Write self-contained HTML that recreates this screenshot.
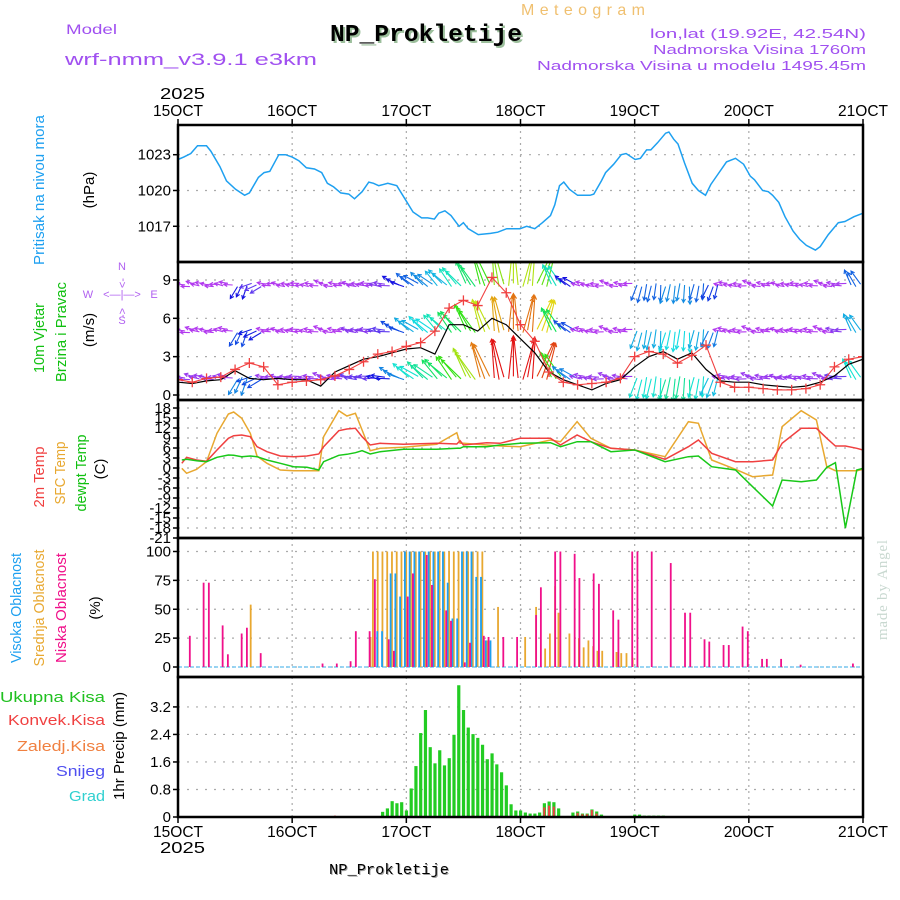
<!DOCTYPE html>
<html><head><meta charset="utf-8"><style>
html,body{margin:0;padding:0;background:#fff;}
svg{display:block;font-family:"Liberation Sans",sans-serif;}
</style></head><body>
<svg id="c" width="900" height="900" viewBox="0 0 900 900" xmlns="http://www.w3.org/2000/svg">
<defs>
<clipPath id="clipWind"><rect x="178" y="262" width="685" height="138"/></clipPath>
<clipPath id="clipP"><rect x="178" y="125" width="685" height="137"/></clipPath>
<clipPath id="clipT"><rect x="178" y="400" width="685" height="138"/></clipPath>
</defs>
<text x="583" y="15" fill="#f0c070" font-size="16" text-anchor="middle" textLength="124" lengthAdjust="spacing">Meteogram</text>
<text x="428" y="43" fill="#9cbf9c" font-family="Liberation Mono,monospace" font-weight="bold" font-size="24" text-anchor="middle" textLength="192" lengthAdjust="spacingAndGlyphs">NP_Prokletije</text>
<text x="426" y="41" fill="#000" font-family="Liberation Mono,monospace" font-weight="bold" font-size="24" text-anchor="middle" textLength="192" lengthAdjust="spacingAndGlyphs">NP_Prokletije</text>
<text x="66" y="34" fill="#a050f0" font-size="14" textLength="51" lengthAdjust="spacingAndGlyphs">Model</text>
<text x="65" y="65" fill="#a050f0" font-size="17" textLength="252" lengthAdjust="spacingAndGlyphs">wrf-nmm_v3.9.1  e3km</text>
<text x="866" y="38" fill="#a050f0" font-size="13" text-anchor="end" textLength="216" lengthAdjust="spacingAndGlyphs">lon,lat (19.92E, 42.54N)</text>
<text x="866" y="54" fill="#a050f0" font-size="13" text-anchor="end" textLength="213" lengthAdjust="spacingAndGlyphs">Nadmorska Visina 1760m</text>
<text x="866" y="70" fill="#a050f0" font-size="13" text-anchor="end" textLength="329" lengthAdjust="spacingAndGlyphs">Nadmorska Visina u modelu 1495.45m</text>

<g font-size="15">
<text transform="translate(44,190) rotate(-90)" fill="#1ea0f0" text-anchor="middle" textLength="150" lengthAdjust="spacingAndGlyphs">Pritisak na nivou mora</text>
<text transform="translate(94,190) rotate(-90)" fill="#000" text-anchor="middle">(hPa)</text>
<text transform="translate(44,338) rotate(-90)" fill="#10c010" text-anchor="middle" textLength="70" lengthAdjust="spacingAndGlyphs">10m Vjetar</text>
<text transform="translate(66,332) rotate(-90)" fill="#10c010" text-anchor="middle" textLength="100" lengthAdjust="spacingAndGlyphs">Brzina i Pravac</text>
<text transform="translate(94,330) rotate(-90)" fill="#000" text-anchor="middle">(m/s)</text>
<text transform="translate(44,477) rotate(-90)" fill="#f04040" text-anchor="middle" textLength="61" lengthAdjust="spacingAndGlyphs">2m Temp</text>
<text transform="translate(65,473) rotate(-90)" fill="#e8a830" text-anchor="middle" textLength="63" lengthAdjust="spacingAndGlyphs">SFC Temp</text>
<text transform="translate(86,473) rotate(-90)" fill="#10c010" text-anchor="middle" textLength="77" lengthAdjust="spacingAndGlyphs">dewpt Temp</text>
<text transform="translate(105,469) rotate(-90)" fill="#000" text-anchor="middle">(C)</text>
<text transform="translate(21,608) rotate(-90)" fill="#1ea0f0" text-anchor="middle" textLength="110" lengthAdjust="spacingAndGlyphs">Visoka Oblacnost</text>
<text transform="translate(44,608) rotate(-90)" fill="#e8a830" text-anchor="middle" textLength="117" lengthAdjust="spacingAndGlyphs">Srednja Oblacnost</text>
<text transform="translate(66,608) rotate(-90)" fill="#f0108a" text-anchor="middle" textLength="110" lengthAdjust="spacingAndGlyphs">Niska Oblacnost</text>
<text transform="translate(100,608) rotate(-90)" fill="#000" text-anchor="middle">(%)</text>
<text transform="translate(124,746) rotate(-90)" fill="#000" text-anchor="middle" textLength="108" lengthAdjust="spacingAndGlyphs">1hr Precip (mm)</text>
<text x="105" y="702" fill="#20c020" text-anchor="end" textLength="105" lengthAdjust="spacingAndGlyphs">Ukupna  Kisa</text>
<text x="105" y="725" fill="#f04040" text-anchor="end" textLength="97" lengthAdjust="spacingAndGlyphs">Konvek.Kisa</text>
<text x="105" y="751" fill="#f08040" text-anchor="end" textLength="88" lengthAdjust="spacingAndGlyphs">Zaledj.Kisa</text>
<text x="105" y="776" fill="#5050f0" text-anchor="end" textLength="49" lengthAdjust="spacingAndGlyphs">Snijeg</text>
<text x="105" y="801" fill="#30d0d0" text-anchor="end" textLength="36" lengthAdjust="spacingAndGlyphs">Grad</text>
</g>
<g fill="#b060f0" font-size="11" text-anchor="middle">
<text x="122" y="270">N</text><text x="122" y="324">S</text><text x="88" y="298">W</text><text x="154" y="298">E</text>
<text x="122" y="298">&lt;—|—&gt;</text>
<text transform="translate(126,283) rotate(-90)">&lt;-</text>
<text transform="translate(126,313) rotate(-90)">-&gt;</text>
</g>
<text transform="translate(887,590) rotate(-90)" fill="#c8d8d0" font-family="Liberation Serif,serif" font-size="15" text-anchor="middle" textLength="100" lengthAdjust="spacing">made by Angel</text>
<text x="390" y="875" fill="#a0a0a0" font-family="Liberation Mono,monospace" font-size="15" text-anchor="middle" textLength="120" lengthAdjust="spacingAndGlyphs">NP_Prokletije</text>
<text x="389" y="874" fill="#000" font-family="Liberation Mono,monospace" font-size="15" text-anchor="middle" textLength="120" lengthAdjust="spacingAndGlyphs">NP_Prokletije</text>
<g id="g"></g>
</svg>
<script>
const dayLabels = ["15OCT","16OCT","17OCT","18OCT","19OCT","20OCT","21OCT"];
const pHours = [0,1.2,2.7,4.1,6,6.9,8.8,10.2,12.1,14,15,16.9,18.1,19.3,21.2,22.6,24,25.4,27,28.7,30.2,31.4,32.7,34.2,35.9,37.1,38.7,40.1,41.1,42.2,44.1,46,47.7,49.4,51.2,52.5,53.9,54.8,56.1,57.4,59.1,60,61,63.1,65.7,67.2,69.1,70.5,71.9,73.3,75,76.6,78.3,79.2,80.2,81.1,82.3,84,86.6,87.4,89,89.9,91.6,93.2,94.2,96.1,97.2,98.5,99.4,100.8,102.5,103.2,104.2,105.1,106.5,108.1,109.4,110.9,112,113.4,115.3,117.2,118.9,120.3,121.2,122.9,124.1,125,126.3,127.6,129.3,130.7,132.1,134,135,136.7,138.8,140.2,142.1,144];
const pressure = [1022.6,1022.8,1023.1,1023.75,1023.75,1023.3,1022,1020.8,1020.1,1019.6,1019.8,1021.1,1021.5,1021.6,1023,1023,1022.8,1022.5,1021.9,1021.8,1021.5,1020.6,1020.3,1019.8,1019.7,1019.3,1019.9,1020.7,1020.6,1020.4,1020.6,1020.4,1019.3,1018.2,1017.7,1017.7,1017.6,1018.1,1018.3,1017.9,1017,1017.3,1016.8,1016.3,1016.4,1016.5,1016.8,1016.8,1016.8,1017,1016.8,1017.3,1017.9,1018.8,1020.4,1020.7,1020.1,1019.6,1019.6,1019.7,1020.8,1021.5,1022.2,1023,1023.1,1022.6,1022.7,1023.4,1023.4,1024,1024.8,1024.9,1024.3,1023.9,1022.3,1020.6,1020,1019.6,1020.5,1021.3,1022.4,1022.7,1022.2,1021.2,1020.9,1020,1019.9,1019.6,1019,1017.8,1016.6,1015.9,1015.4,1015,1015.3,1016.3,1017.3,1017.4,1017.8,1018.1];
const pTicks = [1017,1020,1023];

const windHours = [0,3,6,9,12,15,18,21,24,27,30,33,36,39,42,45,48,51,54,57,60,63,66,69,72,75,78,81,84,87,90,93,96,99,102,105,108,111,114,117,120,123,126,129,132,135,138,141,144];
const windSpeed = [1.0,0.9,1.1,1.2,1.9,1.3,1.2,1.3,1.2,1.2,0.7,1.8,2.3,2.8,3.0,3.3,3.6,3.7,3.2,5.5,5.5,5.0,6.0,5.5,4.4,3.3,1.8,1.2,0.8,0.4,0.9,1.2,2.2,3.0,3.4,2.8,3.3,2.0,1.1,1.0,1.0,0.8,0.7,0.6,0.7,1.0,1.5,2.4,2.8];
const windGust = [1.2,1.0,1.3,1.4,2.0,2.5,2.2,0.8,1.0,1.1,1.2,1.5,2.0,2.6,3.2,3.4,3.8,4.1,5.0,6.8,7.4,7.0,9.2,8.0,5.5,4.2,1.8,1.0,0.8,0.9,1.0,1.3,3.0,3.4,3.2,2.5,3.1,3.9,1.0,0.6,0.6,0.5,0.4,0.4,0.5,0.8,2.2,2.8,3.0];
const arrowDir = [172,168,175,170,245,205,176,170,178,172,168,176,170,178,172,155,145,140,135,130,120,110,100,90,80,70,120,145,170,176,168,175,255,262,258,266,260,250,172,176,168,175,170,178,172,168,176,120,115];
const arrowSpd = [2,2,2,2,4,3.5,2,2,2,2,2,2,2.5,2.5,3,4,5,5.5,6,7,8,9.5,10.5,11,11,10,7,4,2,2,2,2,5,5,5.5,5.5,5,4.5,2,2,2,2,2,2,2,2,2.5,5,5];
const windTicks = [0,3,6,9];

const tHours = [0.8,1.8,3.9,6,8.2,10.6,11.7,13.4,15.2,16.6,18.7,21.5,24.3,27.1,29.6,30.6,33.8,35.5,37.3,38.7,40.4,42.5,47.4,54.4,58.6,59.3,60,64.9,67.7,71.9,78.3,80.4,83.9,86.8,91,96,102.4,107.3,109.4,112.2,117.2,120.8,125,127,131,134.2,136.4,138.2,140.3,142.7,144];
const temp2m = [1.4,3.2,2.4,2.0,5.4,8.9,9.7,9.9,9.4,6.4,4.9,3.6,3.4,3.6,4.2,6.4,11.2,11.7,11.9,9.4,6.9,7.4,7.1,7.4,7.2,8.2,6.9,7.6,7.4,8.9,8.9,6.9,9.9,7.9,5.9,5.4,2.6,6.4,8.4,4.4,1.9,1.9,2.4,7.4,11.9,11.9,8.9,6.6,6.6,5.9,5.4];
const tempSfc = [-0.1,-1.6,-0.4,1.9,10.4,16.2,16.8,14.9,10.4,3.6,1.4,-0.6,-0.8,-0.8,-0.8,9.4,17.2,15.6,16.4,11.4,5.2,5.9,6.2,7.1,10.6,7.4,7.4,6.9,6.6,6.4,8.4,7.9,13.9,8.9,5.9,5.4,3.4,13.9,13.4,2.4,-0.4,-2.6,-2.1,12.4,17.2,14.4,0.4,-0.8,-0.8,-0.8,-0.4];
const tempDew = [2.4,2.6,2.2,1.9,3.2,3.9,3.8,3.4,3.6,3.4,2.4,1.4,0.4,0.2,-0.6,1.9,3.8,4.1,4.6,5.2,4.2,4.9,5.6,5.6,5.9,5.9,6.4,6.4,6.9,7.4,7.6,6.4,7.9,7.9,4.9,5.4,1.9,3.4,3.6,0.4,-0.6,-5.6,-11.4,-3.6,-4.1,-3.6,0.2,1.6,-18,-0.6,-0.1];
const tTicks = [-21,-18,-15,-12,-9,-6,-3,0,3,6,9,12,15,18];

const lowHours = [2.4,5.3,6.4,9.3,10.4,13.3,14.4,17.3,30.3,33.3,36.2,37.3,40.2,41.3,44.2,45.3,48.2,49.3,52.2,53.3,56.3,57.3,60.2,61.3,64.2,65.2,68.3,71.2,75.2,76.2,79.2,80.3,83.3,84.3,87.3,88.4,91.4,92.5,95.4,96.5,99.5,103.5,106.5,107.6,110.6,111.6,114.6,115.7,118.6,119.7,122.7,123.7,126.7,130.8,141.8];
const lowCloud = [27,73,73,36,11,29,34,12,3,3,5,31,31,76,24,14,61,81,97,71,49,40,4,21,27,26,26,26,45,69,100,100,98,77,81,72,49,41,100,100,100,90,47,47,24,22,19,19,35,31,7,7,7,2,3];
const midHours = [15.3,40.5,41,42,43,44,45,46,47,48,49,50,51,52,53,54,55,56,57,58,59,60,61,62,63,64,65,67.3,73,75.3,77.2,78.2,79.3,80,82.3,84.3,85.3,86.3,87.3,88.2,89.2,92.2,93.2,94.3,95.6];
const midCloud = [54,26,100,100,100,100,100,100,100,100,100,100,100,100,100,100,100,100,100,100,100,100,100,100,100,100,23,52,26,52,16,29,70,47,29,25,17,23,18,14,14,13,12,12,8];
const highHours = [41.6,42.6,44.4,45.4,46.4,47.4,48.4,49.4,50.4,51.4,52.4,53.4,54.4,55.4,56.4,57.4,58.4,59.4,60.4,61.4,62.4,63.4,64.4,65.4];
const highCloud = [31,31,81,81,61,100,100,100,100,100,100,100,100,100,73,42,42,100,100,100,78,78,23,23];
const cloudTicks = [0,25,50,75,100];

const precipStart = 43;
const precipTotal = [0.15,0.25,0.46,0.4,0.43,0.19,0.83,1.48,2.44,3.11,2.03,1.56,1.94,1.5,1.71,2.39,3.83,3.11,2.6,2.41,2.3,2.1,1.68,1.85,1.53,1.3,0.92,0.37,0.19,0.19,0.13,0.1,0.1,0.13,0.4,0.45,0.43,0.25,0,0.03,0.13,0.16,0.1,0.1,0.22,0.16,0.07,0.02,0,0,0,0,0.03,0.07,0.07,0.04,0.04,0.04,0.04,0.04];
const convHours = [33,62,77,78,79,84,85,86,87,88];
const precipConv = [0.04,0.04,0.28,0.33,0.3,0.12,0.08,0.08,0.2,0.1];
const precipTicks = [0,0.8,1.6,2.4,3.2];

const X0=178, X1=863;
const xs = h => X0 + h*(X1-X0)/144;
const yP = p => 154.7 - (p-1023)*11.93;
const yW = v => 395 - v*12.78;
const yT = t => 468 - t*3.333;
const yC = v => 667 - v*1.155;
const yR = v => 817 - v*34.4;
const panels = [[125,262],[262,400],[400,538],[538,677],[677,817]];

const NS="http://www.w3.org/2000/svg";
const g=document.getElementById('g');
function mk(tag, attrs, parent){const e=document.createElementNS(NS,tag);for(const k in attrs)e.setAttribute(k,attrs[k]);(parent||g).appendChild(e);return e;}

panels.forEach((pn,i)=>{
  for(let d=1;d<6;d++){
    const l=mk('line',{x1:xs(d*24),x2:xs(d*24),y1:pn[0],y2:pn[1],stroke:'#aaa','stroke-width':1.2,'stroke-dasharray':'2 4'});
    
    
  }
});
function hgrid(vals, yf, name){
  vals.forEach(v=>{
    const l=mk('line',{x1:X0,x2:X1,y1:yf(v),y2:yf(v),stroke:'#aaa','stroke-width':1.2,'stroke-dasharray':'2 7'});
    
    
    mk('line',{x1:X0-5,x2:X0,y1:yf(v),y2:yf(v),stroke:'#000','stroke-width':1.5});
  });
}
function ylabels(vals, yf, fmt, name){
  vals.forEach(v=>{
    const t=mk('text',{x:171,y:yf(v)+5,'text-anchor':'end','font-size':15,fill:'#000'});
    t.textContent=fmt(v);
    
    
  });
}
hgrid(pTicks,yP,'pressure-gridline'); ylabels(pTicks,yP,v=>String(v),'pressure-tick-label');
hgrid(windTicks,yW,'wind-gridline'); ylabels(windTicks,yW,v=>String(v),'wind-tick-label');
hgrid(tTicks,yT,'temp-gridline'); ylabels(tTicks,yT,v=>String(v),'temp-tick-label');
hgrid(cloudTicks,yC,'cloud-gridline'); ylabels(cloudTicks,yC,v=>String(v),'cloud-tick-label');
hgrid(precipTicks,yR,'precip-gridline'); ylabels(precipTicks,yR,v=>v===0?'0':v.toFixed(1),'precip-tick-label');

{
  const d=pHours.map((h,i)=>(i?'L':'M')+xs(h).toFixed(1)+','+yP(pressure[i]).toFixed(1)).join('');
  const p=mk('path',{d:d,fill:'none',stroke:'#1ea0f0','stroke-width':1.5,'clip-path':'url(#clipP)'});
  
  
}

const wg=mk('g',{'clip-path':'url(#clipWind)'});
const rowY=[285,331,378], rowMult=[0.85,1,1.15];
for(let r=0;r<3;r++){
  for(let h=0;h<144;h++){
    const i=Math.floor(h/3);
    const s=arrowSpd[i]*rowMult[r];
    const L=2.9*s+4;
    const a=(arrowDir[i]+(h%3-1)*6)*Math.PI/180;
    const x1=xs(h+0.5), y1=rowY[r]+((h*7)%5-2)*0.8;
    const x2=x1+L*Math.cos(a), y2=y1-L*Math.sin(a);
    const hue=Math.max(0,Math.min(280,280-(s-2)*28));
    const col='hsl('+hue+',85%,'+(hue>250?58:48)+'%)';
    const ar=mk('path',{d:'M'+x1.toFixed(1)+','+y1.toFixed(1)+'L'+x2.toFixed(1)+','+y2.toFixed(1)+
      'M'+(x2-4*Math.cos(a-0.5)).toFixed(1)+','+(y2+4*Math.sin(a-0.5)).toFixed(1)+'L'+x2.toFixed(1)+','+y2.toFixed(1)+
      'L'+(x2-4*Math.cos(a+0.5)).toFixed(1)+','+(y2+4*Math.sin(a+0.5)).toFixed(1),
      fill:'none',stroke:col,'stroke-width':1.1},wg);
    
    
  }
}
{
  const d=windHours.map((h,i)=>(i?'L':'M')+xs(h).toFixed(1)+','+yW(windSpeed[i]).toFixed(1)).join('');
  const p=mk('path',{d:d,fill:'none',stroke:'#000','stroke-width':1.2},wg);
  
  
  const d2=windHours.map((h,i)=>(i?'L':'M')+xs(h).toFixed(1)+','+yW(windGust[i]).toFixed(1)).join('');
  const p2=mk('path',{d:d2,fill:'none',stroke:'#f04040','stroke-width':1.1},wg);
  
  
  windHours.forEach((h,i)=>{
    const x=xs(h), y=yW(windGust[i]);
    const m=mk('path',{d:'M'+(x-5)+','+y+'h10M'+x+','+(y-5)+'v10',stroke:'#f04040','stroke-width':1.3},wg);
    
    
  });
}

const tg=mk('g',{'clip-path':'url(#clipT)'});
[[tempSfc,'#e8a830','temp-sfc-line'],[temp2m,'#f04040','temp-2m-line'],[tempDew,'#18c818','temp-dewpt-line']].forEach(s=>{
  const d=tHours.map((h,i)=>(i?'L':'M')+xs(h).toFixed(1)+','+yT(s[0][i]).toFixed(1)).join('');
  const p=mk('path',{d:d,fill:'none',stroke:s[1],'stroke-width':1.5},tg);
  
  
});

function cbars(hours, vals, col, off, name){
  hours.forEach((h,i)=>{
    const b=mk('rect',{x:xs(h)+off,y:yC(vals[i]),width:1.8,height:Math.max(0,667-yC(vals[i])),fill:col});
    
    
  });
}
mk('line',{x1:X0,x2:X1,y1:667,y2:667,stroke:'#7ac8f0','stroke-width':1.5,'stroke-dasharray':'4 2'});
cbars(midHours,midCloud,'#e8a830',-1,'mid-cloud-bar');
cbars(highHours,highCloud,'#1ea0f0',0.5,'high-cloud-bar');
cbars(lowHours,lowCloud,'#f0108a',-0.5,'low-cloud-bar');

precipTotal.forEach((v,i)=>{
  const h=precipStart+i;
  const b=mk('rect',{x:xs(h)-1.5,y:yR(v),width:3.2,height:817-yR(v),fill:'#22cc22'});
  
  
});
convHours.forEach((h,i)=>{
  const b=mk('rect',{x:xs(h)-1,y:yR(precipConv[i]),width:2,height:817-yR(precipConv[i]),fill:'#f04040'});
  
  
});

panels.forEach((pn,i)=>{
  const r=mk('rect',{x:X0,y:pn[0],width:X1-X0,height:pn[1]-pn[0],fill:'none',stroke:'#000','stroke-width':2.5});
  
  
});
dayLabels.forEach((lab,d)=>{
  const x=xs(d*24);
  mk('line',{x1:x,x2:x,y1:119,y2:125,stroke:'#000','stroke-width':1.5});
  mk('line',{x1:x,x2:x,y1:817,y2:823,stroke:'#000','stroke-width':1.5});
  const t=mk('text',{x:x,y:116,'text-anchor':'middle','font-size':16,textLength:50,lengthAdjust:'spacingAndGlyphs'});
  t.textContent=lab;
  
  
  const b=mk('text',{x:x,y:837,'text-anchor':'middle','font-size':16,textLength:50,lengthAdjust:'spacingAndGlyphs'});
  b.textContent=lab;
  
  
});
[[99,'year-label-top'],[853,'year-label-bottom']].forEach(a=>{
  const t=mk('text',{x:160,y:a[0],'font-size':16,textLength:45,lengthAdjust:'spacingAndGlyphs'});
  t.textContent='2025';
  
  
});
</script>
</body></html>
